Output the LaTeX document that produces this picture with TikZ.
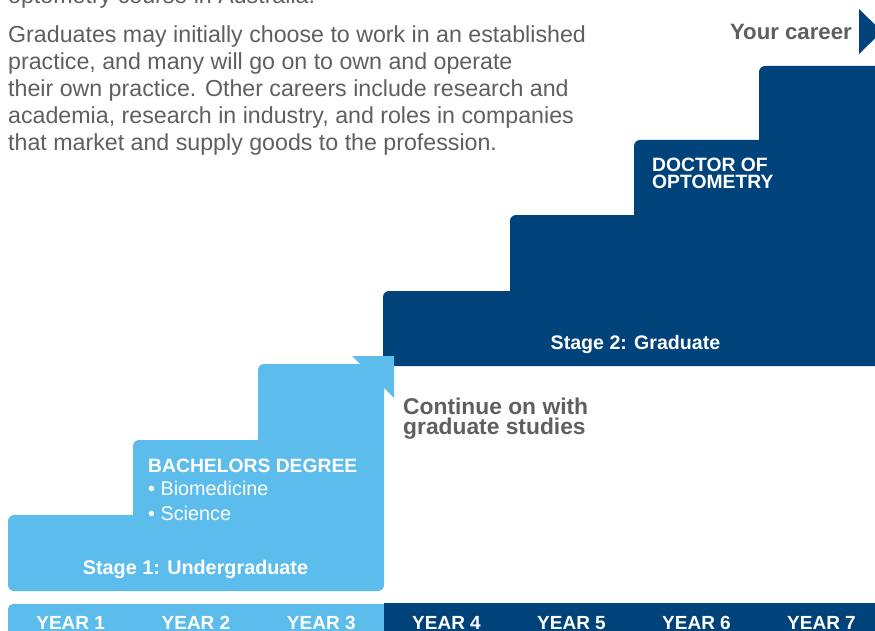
\documentclass[tikz,border=0pt]{standalone}
\usepackage{fontspec}
\setmainfont{Liberation Sans}
\definecolor{lb}{HTML}{5CBCEC}
\definecolor{db}{HTML}{00437A}
\definecolor{tg}{HTML}{5F5F5F}
\tikzset{
  body/.style={font=\fontsize{23.2}{27}\selectfont, text=tg, anchor=base west, inner sep=0pt, align=left},
  wbold/.style={font=\fontsize{19.3}{17}\selectfont\bfseries, text=white, inner sep=0pt},
  wlight/.style={font=\fontsize{19.8}{25}\selectfont, text=white, inner sep=0pt, anchor=base west},
  gbold/.style={font=\fontsize{22.8}{20}\selectfont\bfseries, text=tg, inner sep=0pt},
  yearlbl/.style={font=\fontsize{19}{19}\selectfont\bfseries, text=white, inner sep=0pt, anchor=base}
}
\begin{document}
\begin{tikzpicture}[x=1pt,y=-1pt]
\useasboundingbox (0,0) rectangle (875,631);
\clip (0,0) rectangle (875,631);
% dark staircase
\fill[db] (383,366) [rounded corners=6]-- (383,291) [sharp corners]-- (510,291) [rounded corners=6]-- (510,215) [sharp corners]-- (634,215) [rounded corners=6]-- (634,140) [sharp corners]-- (759,140) [rounded corners=6]-- (759,66) [sharp corners]-- (890,66) -- (890,366) -- cycle;
% light staircase
\fill[lb] (200,591) [rounded corners=6]-- (8,591) -- (8,515) [sharp corners]-- (133,515) [rounded corners=6]-- (133,440) [sharp corners]-- (258,440) [rounded corners=6]-- (258,364) [sharp corners]-- (384,364) [rounded corners=6]-- (384,591) [sharp corners]-- cycle;
\fill[lb] (352,356) -- (394,356) -- (394,398) -- cycle;
% career arrow
\fill[db] (859,9) -- (882,31.5) -- (859,54) -- cycle;
% year bar
\fill[lb] (384,604) [rounded corners=5]-- (8,604) [sharp corners]-- (8,640) -- (384,640) -- cycle;
\fill[db] (384,603) rectangle (890,640);
% texts (multi-line nodes are anchored at the baseline of their last line)
\node[body] (p0) at (8,4) {optometry course in Australia.};
\node[body] (p1) at (8,151) {Graduates may initially choose to work in an established\\practice, and many will go on to own and operate\\their own practice. Other careers include research and\\academia, research in industry, and roles in companies\\that market and supply goods to the profession.};
\node[gbold, font=\fontsize{22.2}{20}\selectfont\bfseries, anchor=base east] (career) at (852,40) {Your career};
\node[wbold, anchor=base west, align=left] (doc) at (652,189) {DOCTOR OF\\OPTOMETRY};
\node[wbold, font=\fontsize{19.6}{17}\selectfont\bfseries, anchor=base] (st2) at (635.5,349) {Stage 2: Graduate};
\node[gbold, anchor=base west, align=left] (cont) at (403,434) {Continue on with\\graduate studies};
\node[wbold, anchor=base west] (bach) at (148,472) {BACHELORS DEGREE};
\node[wlight] (bio) at (148,495) {• Biomedicine};
\node[wlight] (sci) at (148,520) {• Science};
\node[wbold, font=\fontsize{19.8}{17}\selectfont\bfseries, anchor=base] (st1) at (195.5,574) {Stage 1: Undergraduate};
\node[yearlbl] (y1) at (70.7,629) {YEAR 1};
\node[yearlbl] (y2) at (196,629) {YEAR 2};
\node[yearlbl] (y3) at (321.3,629) {YEAR 3};
\node[yearlbl] (y4) at (446.5,629) {YEAR 4};
\node[yearlbl] (y5) at (571.5,629) {YEAR 5};
\node[yearlbl] (y6) at (696.5,629) {YEAR 6};
\node[yearlbl] (y7) at (821.5,629) {YEAR 7};
\end{tikzpicture}
\end{document}
